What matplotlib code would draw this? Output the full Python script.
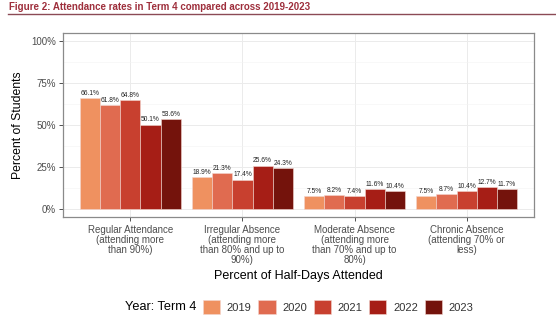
import matplotlib
matplotlib.use("Agg")
import matplotlib.pyplot as plt
import numpy as np
from matplotlib.patches import Patch
from matplotlib.ticker import MultipleLocator
from matplotlib.offsetbox import HPacker

categories = ["Regular Attendance\n(attending more\nthan 90%)",
              "Irregular Absence\n(attending more\nthan 80% and up to\n90%)",
              "Moderate Absence\n(attending more\nthan 70% and up to\n80%)",
              "Chronic Absence\n(attending 70% or\nless)"]
years = ["2019", "2020", "2021", "2022", "2023"]
values = {
    "2019": [66.1, 18.9, 7.5, 7.5],
    "2020": [61.8, 21.3, 8.2, 8.7],
    "2021": [64.8, 17.4, 7.4, 10.4],
    "2022": [50.1, 25.6, 11.6, 12.7],
    "2023": [53.6, 24.3, 10.4, 11.7],
}
colors = ["#EF9160", "#E06B50", "#C8402F", "#A61E16", "#74130C"]

plt.rcParams['font.family'] = ['Liberation Sans', 'DejaVu Sans']
fig = plt.figure(figsize=(5.56, 3.23), dpi=100)
W, H = 556, 323
ax = fig.add_axes([63/W, 1-217/H, (534-63)/W, (217-33)/H])

x = np.arange(1, len(categories)+1)
bw = 0.18
for i, y in enumerate(years):
    pos = x + (i-2)*bw
    ax.bar(pos, values[y], width=bw, color=colors[i], edgecolor="#f3d6cf", linewidth=0.4, zorder=3)
    for px, v in zip(pos, values[y]):
        ax.text(px, v + 0.8, f"{v:.1f}%", ha="center", va="bottom", fontsize=4.8, color="#222222", zorder=4)

ax.set_xlim(0.4, 4.6)
ax.set_ylim(-5, 105)
ax.set_yticks([0, 25, 50, 75, 100])
ax.set_yticklabels(["0%", "25%", "50%", "75%", "100%"])
ax.yaxis.set_minor_locator(MultipleLocator(12.5))
ax.set_xticks(x)
ax.set_xticklabels(categories, fontsize=7, color="#4d4d4d", linespacing=1.0)
ax.tick_params(axis='y', labelsize=7, labelcolor="#4d4d4d", length=3, color="#333333", width=0.6, pad=2)
ax.tick_params(axis='x', length=3, color="#333333", width=0.6, pad=2.5)
ax.tick_params(which='minor', length=0)
ax.grid(which='major', color="#ebebeb", linewidth=0.7, zorder=0)
ax.grid(which='minor', axis='y', color="#f3f3f3", linewidth=0.4, zorder=0)
ax.set_axisbelow(True)
for s in ax.spines.values():
    s.set_color("#8a8a8a")
    s.set_linewidth(0.9)
ax.set_ylabel("Percent of Students", fontsize=8.8, color="black", labelpad=5)
ax.set_xlabel("Percent of Half-Days Attended", fontsize=9, color="black", labelpad=4)

fig.text(9/W, 1-7/H, "Figure 2: Attendance rates in Term 4 compared across 2019-2023",
         fontsize=7, fontweight="bold", color="#9E2F3C", ha="left", va="center")
fig.add_artist(plt.Line2D([8/W, 1.0], [1-13.5/H, 1-13.5/H], color="#8B4A55", linewidth=1.0))

handles = [Patch(facecolor=c, edgecolor="#f3d6cf", linewidth=0.4) for c in colors]
leg = fig.legend(handles, years, loc="center", bbox_to_anchor=(299/W, 1-307/H), ncol=5,
                 frameon=False, fontsize=8, handlelength=1.55, handleheight=1.55,
                 columnspacing=0.6, handletextpad=0.6, borderpad=0,
                 title="Year: Term 4", title_fontsize=9.2)
title_box = leg._legend_title_box
handle_box = leg._legend_handle_box
leg._legend_box._children = [HPacker(children=[title_box, handle_box], align="center", pad=0, sep=5)]
for t in leg.get_texts():
    t.set_color("#333333")

fig.savefig("out.png", dpi=100)
